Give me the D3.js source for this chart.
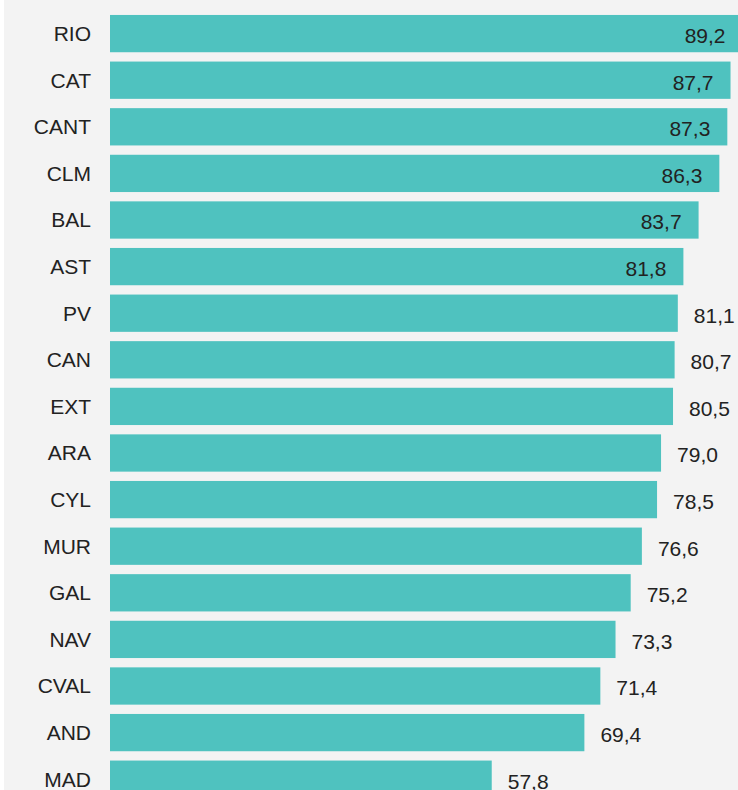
<!DOCTYPE html>
<html>
<head>
<meta charset="utf-8">
<script src="https://cdn.jsdelivr.net/npm/d3@7"></script>
<style>
  html, body { margin: 0; padding: 0; background: #fff; }
  #chart { position: absolute; left: 4px; top: 0; width: 734px; height: 790px; background: #f3f3f3; overflow: hidden; }
  text { font-family: Arial, "Liberation Sans", sans-serif; }
</style>
</head>
<body>
<div id="chart"></div>
<script>
document.addEventListener('DOMContentLoaded', function() {
    const regions = ['RIO', 'CAT', 'CANT', 'CLM', 'BAL', 'AST', 'PV', 'CAN', 'EXT', 'ARA', 'CYL', 'MUR', 'GAL', 'NAV', 'CVAL', 'AND', 'MAD'];
    const values = [89.2, 87.7, 87.3, 86.3, 83.7, 81.8, 81.1, 80.7, 80.5, 79.0, 78.5, 76.6, 75.2, 73.3, 71.4, 69.4, 57.8];

    const width = 734;
    const height = 790;
    const left = 106;   // bar origin inside the panel
    const fontSize = 21;

    const svg = d3.select('#chart')
        .append('svg')
        .attr('width', width)
        .attr('height', height);

    const x = d3.scaleLinear()
        .domain([10, 89.2])
        .range([left, 738.5]);

    const y = d3.scaleBand()
        .domain(regions)
        .range([10.3, 10.3 + regions.length * 46.6])
        .paddingInner(0.2)
        .paddingOuter(0.1);

    const rows = svg.selectAll('g.row')
        .data(regions.map((r, i) => ({ region: r, value: values[i] })))
        .enter()
        .append('g')
        .attr('class', 'row');

    rows.append('rect')
        .attr('x', x(10))
        .attr('y', d => y(d.region))
        .attr('width', d => x(d.value) - x(10))
        .attr('height', y.bandwidth())
        .attr('fill', '#4fc2bf');

    // category labels
    rows.append('text')
        .attr('x', 87)
        .attr('y', d => y(d.region) + y.bandwidth() / 2)
        .attr('dy', '0.35em')
        .attr('text-anchor', 'end')
        .attr('fill', '#222')
        .style('font-size', fontSize + 'px')
        .text(d => d.region);

    // value labels: outside the bar unless they would run off the edge
    const fmt = v => v.toFixed(1).replace('.', ',');
    rows.append('text')
        .attr('y', d => y(d.region) + y.bandwidth() / 2 + 2)
        .attr('dy', '0.35em')
        .attr('fill', '#222')
        .style('font-size', fontSize + 'px')
        .text(d => fmt(d.value))
        .each(function(d) {
            const t = d3.select(this);
            const w = this.getComputedTextLength();
            const end = x(d.value);
            if (end + 16 + w > width) {
                t.attr('x', end - 17).attr('text-anchor', 'end');
            } else {
                t.attr('x', end + 16).attr('text-anchor', 'start');
            }
        });
});
</script>
</body>
</html>
